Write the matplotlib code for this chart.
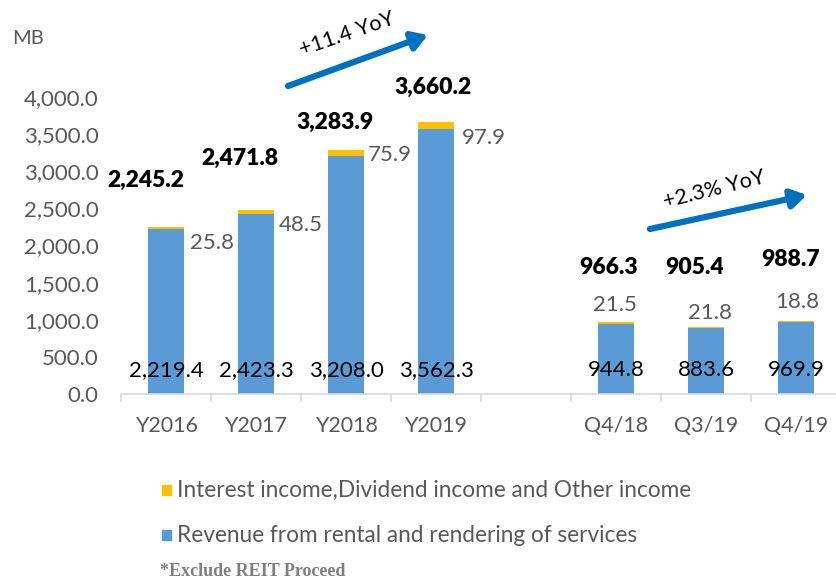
import numpy as np
import matplotlib
matplotlib.use("Agg")
import matplotlib.pyplot as plt

# chart values (blank slot separates yearly and quarterly figures)
categories = ["Y2016", "Y2017", "Y2018", "Y2019", "", "Q4/18", "Q3/19", "Q4/19"]
rental = [2219.4, 2423.3, 3208.0, 3562.3, np.nan, 944.8, 883.6, 969.9]
other_income = [25.8, 48.5, 75.9, 97.9, np.nan, 21.5, 21.8, 18.8]
totals = [2245.2, 2471.8, 3283.9, 3660.2, np.nan, 966.3, 905.4, 988.7]

BLUE = "#5B9BD5"
YELLOW = "#FFC000"
ARROW = "#0070C0"
GREY = "#595959"

plt.rcParams["font.family"] = ["Lato", "DejaVu Sans"]

# hand-placed label spots, like the Excel original (data units)
total_pos = [(-0.22, 2882), (0.82, 3178), (1.88, 3663), (2.97, 4135), None,
             (4.92, 1710), (5.87, 1710), (6.94, 1805)]
other_pos = [(0.51, 2034), (1.50, 2276), (2.49, 3219), (3.53, 3448), None,
             (4.99, 1199), (6.04, 1091), (7.01, 1239)]

fig = plt.figure(figsize=(8.36, 5.84), dpi=100)
ax = fig.add_axes([121 / 836, 190 / 584, 720 / 836, 297 / 584])

x = np.arange(len(categories))
ax.bar(x, rental, 0.4, color=BLUE, zorder=2)
ax.bar(x, other_income, 0.4, bottom=rental, color=YELLOW, zorder=2)

for i in range(len(categories)):
    if np.isnan(rental[i]):
        continue
    ax.text(x[i], 323, f"{rental[i]:,.1f}", ha="center", va="center",
            fontsize=16, color="black", zorder=3)
    tx, ty = total_pos[i]
    ax.text(tx, ty, f"{totals[i]:,.1f}", ha="center", va="center",
            fontsize=16.5, fontweight="heavy", color="black")
    ox, oy = other_pos[i]
    ax.text(ox, oy, f"{other_income[i]:,.1f}", ha="center", va="center",
            fontsize=16, color=GREY)

ax.set_xlim(-0.5, len(categories) - 0.5)
ax.set_ylim(0, 4000)
ax.set_yticks(np.arange(0, 4001, 500))
ax.set_yticklabels([f"{v:,.1f}" for v in np.arange(0, 4001, 500)])
ax.set_xticks(x)
ax.set_xticklabels(categories)
ax.set_xticks(np.arange(-0.5, len(categories)), minor=True)
ax.tick_params(axis="x", which="major", length=0, pad=16, labelsize=15.5, labelcolor=GREY)
ax.tick_params(axis="x", which="minor", length=6, width=1.2, color="#D9D9D9", direction="out")
ax.tick_params(axis="y", length=0, pad=16, labelsize=16, labelcolor=GREY)

for s in ["top", "right", "left"]:
    ax.spines[s].set_visible(False)
ax.spines["bottom"].set_color("#D9D9D9")
ax.spines["bottom"].set_linewidth(1.2)

fig.text(12 / 836, 1 - 38 / 584, "MB", fontsize=14.5, color=GREY, va="center")

# growth arrows
H = 584
ax.annotate("", xy=(428, H - 35), xytext=(288, H - 86), xycoords="figure pixels",
            arrowprops=dict(arrowstyle="-|>,head_length=0.9,head_width=0.55",
                            lw=4.5, color=ARROW, shrinkA=0, shrinkB=0))
fig.text(347 / 836, 1 - 34 / H, "+11.4 YoY", rotation=19, fontsize=15.5,
         ha="center", va="center", color="black")
ax.annotate("", xy=(807, H - 195), xytext=(650, H - 229), xycoords="figure pixels",
            arrowprops=dict(arrowstyle="-|>,head_length=0.9,head_width=0.55",
                            lw=4.5, color=ARROW, shrinkA=0, shrinkB=0))
fig.text(714 / 836, 1 - 190 / H, "+2.3% YoY", rotation=14, fontsize=15.5,
         ha="center", va="center", color="black")

# legend drawn by hand to keep the Excel spacing
legend_items = [("Interest income,Dividend income and Other income", YELLOW, 490),
                ("Revenue from rental and rendering of services", BLUE, 535)]
for label, col, py in legend_items:
    fig.patches.append(plt.Rectangle((162 / 836, 1 - (py + 5) / H), 9 / 836, 10 / H,
                                     transform=fig.transFigure, color=col, figure=fig))
    fig.text(177 / 836, 1 - py / H, label, fontsize=16.3, color=GREY, va="center")

fig.text(160 / 836, 1 - 572 / H, "*Exclude REIT Proceed", fontsize=13,
         family="Liberation Serif", fontweight="bold", color="#7F7F7F", va="center")

fig.savefig("out.png", dpi=100)
